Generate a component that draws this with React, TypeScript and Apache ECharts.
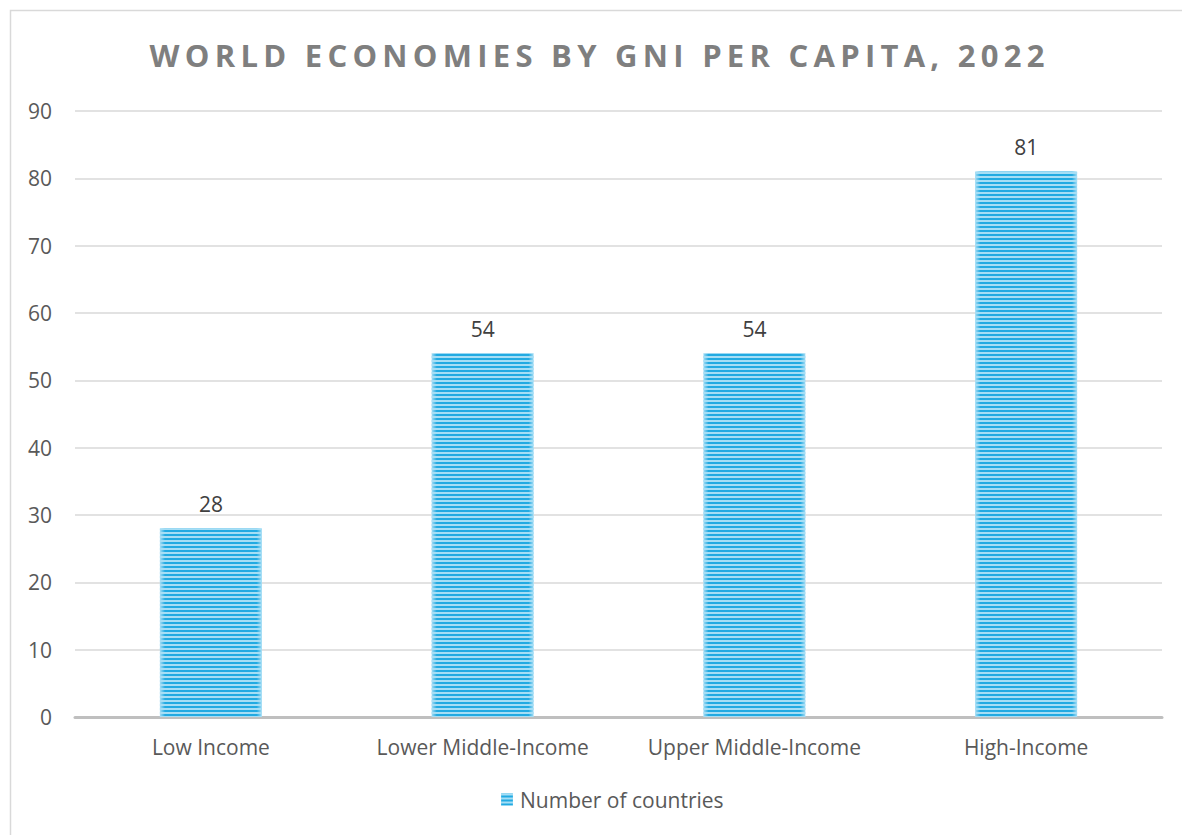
import React, { useEffect, useRef } from "react";
import * as echarts from "echarts";

const TITLE = "WORLD ECONOMIES BY GNI PER CAPITA, 2022";
const categories = ["Low Income", "Lower Middle-Income", "Upper Middle-Income", "High-Income"];
const countries = [28, 54, 54, 81];
const seriesName = "Number of countries";

const FONT = "'Open Sans', 'Noto Sans', sans-serif";

export default function App() {
  const ref = useRef<HTMLDivElement>(null);
  useEffect(() => {
    if (!ref.current) return;
    const chart = echarts.init(ref.current, null, { renderer: "svg" });
    const barColor = new echarts.graphic.LinearGradient(0, 0, 1, 0, [
      { offset: 0, color: "#a4ddf5" },
      { offset: 0.05, color: "#22aae2" },
      { offset: 0.95, color: "#22aae2" },
      { offset: 1, color: "#a4ddf5" },
    ]);
    chart.setOption({
      animation: false,
      backgroundColor: "#ffffff",
      textStyle: { fontFamily: FONT },
      graphic: [
        {
          type: "rect",
          shape: { x: 10.5, y: 10.5, width: 1300, height: 1000 },
          style: { fill: "none", stroke: "#d9d9d9", lineWidth: 1.5 },
          silent: true,
          z: -10,
        },
      ],
      title: {
        text: TITLE,
        left: 592,
        textAlign: "center",
        top: 34,
        textStyle: {
          fontFamily: FONT,
          fontSize: 31,
          fontWeight: "bold",
          color: "#7f7f7f",
        },
      },
      legend: {
        bottom: 20,
        left: 496,
        itemWidth: 12,
        itemHeight: 12,
        itemGap: 8,
        icon: "rect",
        textStyle: { fontFamily: FONT, fontSize: 21, color: "#595959", padding: [0, 0, 0, 2] },
        data: [seriesName],
      },
      grid: { left: 75, right: 20, top: 111, bottom: 118, containLabel: false },
      xAxis: {
        type: "category",
        data: categories,
        axisLine: { show: true, lineStyle: { color: "#bfbfbf", width: 3 } },
        axisTick: { show: false },
        axisLabel: { fontFamily: FONT, fontSize: 21, color: "#595959", margin: 19, interval: 0 },
      },
      yAxis: {
        type: "value",
        min: 0,
        max: 90,
        interval: 10,
        axisLine: { show: false },
        axisTick: { show: false },
        splitLine: { lineStyle: { color: "#d9d9d9", width: 1.5 } },
        axisLabel: { fontFamily: FONT, fontSize: 21, color: "#595959", margin: 23 },
      },
      series: [
        {
          name: seriesName,
          type: "bar",
          data: countries,
          barWidth: 102,
          itemStyle: {
            color: barColor,
            decal: {
              symbol: "rect",
              symbolSize: 1,
              color: "#a6def5",
              dashArrayX: [1, 0],
              dashArrayY: [1.5, 1.5],
              rotation: 0,
            },
          },
          label: {
            show: true,
            position: "top",
            distance: 14,
            fontFamily: FONT,
            fontSize: 21,
            color: "#404040",
          },
        },
      ],
    });
    const fixTitle = () => {
      const el = ref.current;
      if (!el) return;
      el.querySelectorAll("text").forEach((t) => {
        if (t.textContent === TITLE) {
          t.setAttribute("textLength", "895");
          t.setAttribute("lengthAdjust", "spacing");
        }
      });
    };
    chart.on("finished", fixTitle);
    chart.getZr().refreshImmediately();
    fixTitle();
    const timer = setTimeout(fixTitle, 50);
    return () => {
      clearTimeout(timer);
      chart.dispose();
    };
  }, []);
  return (
    <div
      ref={ref}
      style={{ position: "fixed", left: 0, top: 0, width: 1182, height: 835 }}
    />
  );
}
